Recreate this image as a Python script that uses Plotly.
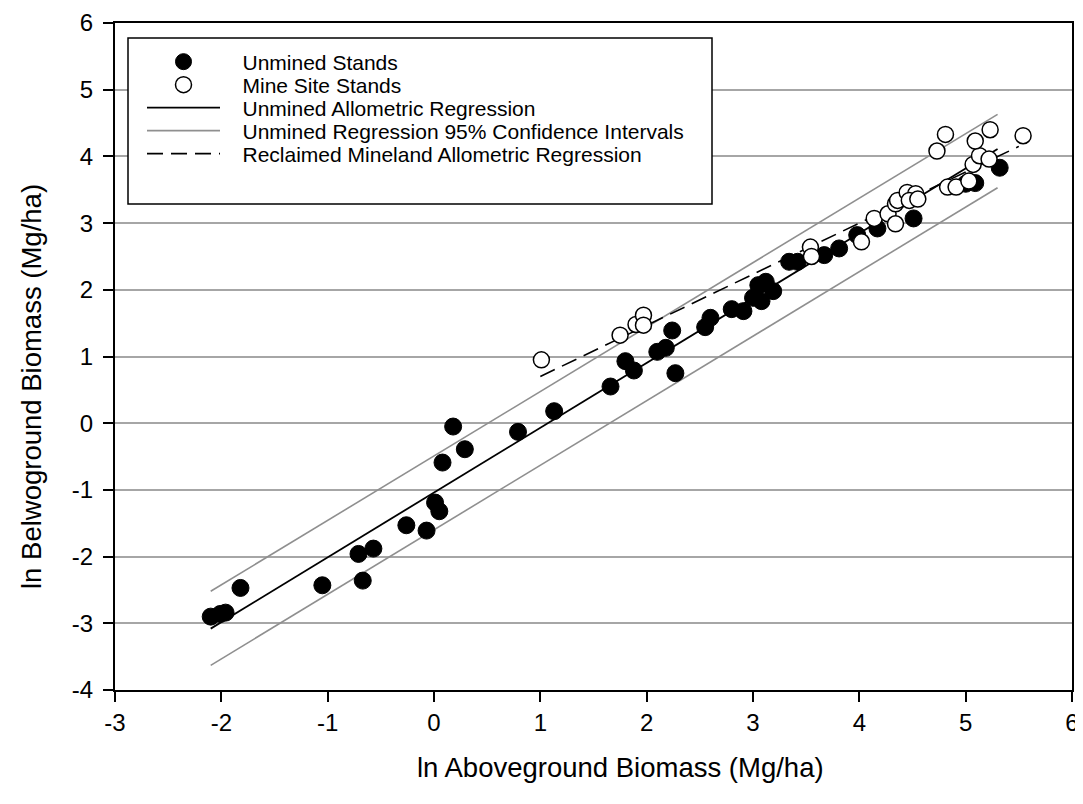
import plotly.graph_objects as go

# Unmined stands (filled circles)
unmined_x = [-2.10, -2.01, -1.96, -1.82, -1.05, -0.67, -0.71, -0.57, -0.26, -0.07,
             0.01, 0.05, 0.08, 0.29, 0.18, 0.79, 1.13, 1.66, 1.80, 1.88,
             2.10, 2.18, 2.24, 2.27, 2.55, 2.60, 2.80, 2.91, 3.00, 3.05,
             3.12, 3.19, 3.08, 3.34, 3.42, 3.67, 3.81, 3.98, 4.17, 4.51,
             5.00, 5.09, 5.32]
unmined_y = [-2.90, -2.86, -2.84, -2.47, -2.43, -2.36, -1.96, -1.88, -1.53, -1.61,
             -1.19, -1.32, -0.59, -0.39, -0.05, -0.13, 0.18, 0.55, 0.93, 0.79,
             1.07, 1.13, 1.39, 0.75, 1.44, 1.58, 1.71, 1.68, 1.88, 2.07,
             2.12, 1.98, 1.83, 2.42, 2.42, 2.52, 2.62, 2.82, 2.92, 3.07,
             3.59, 3.60, 3.83]

# Mine site stands (open circles)
mine_x = [1.01, 1.75, 1.90, 1.97, 1.97, 3.54, 3.55, 4.02, 4.14, 4.27,
          4.34, 4.34, 4.36, 4.45, 4.53, 4.47, 4.55, 4.83, 4.91, 5.03,
          5.07, 5.13, 5.09, 5.22, 5.23, 4.81, 4.73, 5.54]
mine_y = [0.95, 1.32, 1.48, 1.62, 1.47, 2.64, 2.50, 2.72, 3.07, 3.14,
          3.29, 2.99, 3.34, 3.46, 3.44, 3.34, 3.36, 3.54, 3.54, 3.63,
          3.88, 4.01, 4.23, 3.96, 4.40, 4.33, 4.08, 4.31]

# Regression lines (end points)
reg_x = [-2.10, 5.30]
reg_y = [-3.08, 4.11]
ci_upper_y = [-2.52, 4.63]
ci_lower_y = [-3.63, 3.53]
mine_reg_x = [1.00, 5.50]
mine_reg_y = [0.70, 4.15]

# Tick labels
x_tickvals = [-3, -2, -1, 0, 1, 2, 3, 4, 5, 6]
x_ticktext = ["-3", "-2", "-1", "0", "1", "2", "3", "4", "5", "6"]
y_tickvals = [-4, -3, -2, -1, 0, 1, 2, 3, 4, 5, 6]
y_ticktext = ["-4", "-3", "-2", "-1", "0", "1", "2", "3", "4", "5", "6"]

legend_names = ["Unmined Stands", "Mine Site Stands", "Unmined Allometric Regression",
                "Unmined Regression 95% Confidence Intervals",
                "Reclaimed Mineland Allometric Regression"]
x_title = "ln Aboveground Biomass (Mg/ha)"
y_title = "ln Belwoground Biomass (Mg/ha)"

FONT = "Liberation Sans, Arial, sans-serif"
PAD = "\u00a0\u00a0\u00a0"

fig = go.Figure()
fig.add_trace(go.Scatter(x=reg_x, y=reg_y, mode="lines", name=PAD + legend_names[2],
                         legend="legend3", line=dict(color="black", width=1.8)))
fig.add_trace(go.Scatter(x=reg_x, y=ci_upper_y, mode="lines", name=PAD + legend_names[3],
                         legend="legend4", line=dict(color="#8f8f8f", width=1.6)))
fig.add_trace(go.Scatter(x=reg_x, y=ci_lower_y, mode="lines", showlegend=False,
                         line=dict(color="#8f8f8f", width=1.6)))
fig.add_trace(go.Scatter(x=mine_reg_x, y=mine_reg_y, mode="lines", name=PAD + legend_names[4],
                         legend="legend5", line=dict(color="black", width=1.6, dash="16px,8px")))
fig.add_trace(go.Scatter(x=unmined_x, y=unmined_y, mode="markers", name=PAD + legend_names[0],
                         legend="legend",
                         marker=dict(size=17, color="black", line=dict(color="black", width=1))))
fig.add_trace(go.Scatter(x=mine_x, y=mine_y, mode="markers", name=PAD + legend_names[1],
                         legend="legend2",
                         marker=dict(size=16, color="white", line=dict(color="black", width=1.5))))

# Figure size and plot area (page has an 8px body margin)
FIG_W, FIG_H = 1075, 796
M_L, M_R, M_T, M_B = 107, 11, 15, 114
BODY = 8
PA_X0 = BODY + M_L
PA_X1 = BODY + FIG_W - M_R
PA_Y0 = BODY + M_T
PA_Y1 = BODY + FIG_H - M_B


def py2paper(py):
    return (PA_Y1 - py) / (PA_Y1 - PA_Y0)


def px2paper(px):
    return (px - PA_X0) / (PA_X1 - PA_X0)


leg_common = dict(xanchor="left", yanchor="middle", font=dict(size=21, family=FONT, color="black"),
                  bgcolor="rgba(0,0,0,0)", borderwidth=0, itemwidth=73, itemsizing="trace")
row_y = [62, 85, 108, 131, 154]
leg_x = px2paper(142)

fig.update_layout(
    width=FIG_W, height=FIG_H,
    margin=dict(l=M_L, r=M_R, t=M_T, b=M_B, autoexpand=False),
    plot_bgcolor="white", paper_bgcolor="white",
    font=dict(family=FONT, color="black"),
    legend=dict(x=leg_x, y=py2paper(row_y[0]), **leg_common),
    legend2=dict(x=leg_x, y=py2paper(row_y[1]), **leg_common),
    legend3=dict(x=leg_x, y=py2paper(row_y[2]), **leg_common),
    legend4=dict(x=leg_x, y=py2paper(row_y[3]), **leg_common),
    legend5=dict(x=leg_x, y=py2paper(row_y[4]), **leg_common),
    shapes=[dict(type="rect", xref="paper", yref="paper", layer="above",
                 x0=px2paper(128), x1=px2paper(712), y0=py2paper(204), y1=py2paper(38),
                 line=dict(color="black", width=1.5), fillcolor="white")],
    annotations=[
        dict(text=x_title, xref="paper", yref="paper", x=px2paper(620), y=py2paper(767),
             xanchor="center", yanchor="middle", showarrow=False,
             font=dict(size=27.5, family=FONT, color="black")),
        dict(text=y_title, xref="paper", yref="paper", x=px2paper(31), y=py2paper(387),
             xanchor="center", yanchor="middle", showarrow=False, textangle=-90,
             font=dict(size=27.5, family=FONT, color="black")),
    ],
)

fig.update_xaxes(range=[-3, 6], tickvals=x_tickvals, ticktext=x_ticktext,
                 showgrid=False, zeroline=False, ticklabeloverflow="allow", automargin=False,
                 showline=True, linecolor="black", linewidth=2, mirror=True,
                 ticks="outside", ticklen=10, tickwidth=1.5, tickcolor="black",
                 tickfont=dict(size=24, family=FONT, color="black"))
fig.update_yaxes(range=[-4, 6], tickvals=y_tickvals, ticktext=y_ticktext,
                 showgrid=True, gridcolor="#a6a6a6", gridwidth=1.5, zeroline=False,
                 ticklabeloverflow="allow", ticklabelstandoff=5, automargin=False,
                 showline=True, linecolor="black", linewidth=2, mirror=True,
                 ticks="outside", ticklen=10, tickwidth=1.5, tickcolor="black",
                 tickfont=dict(size=24, family=FONT, color="black"))

fig.write_html("out.html")
